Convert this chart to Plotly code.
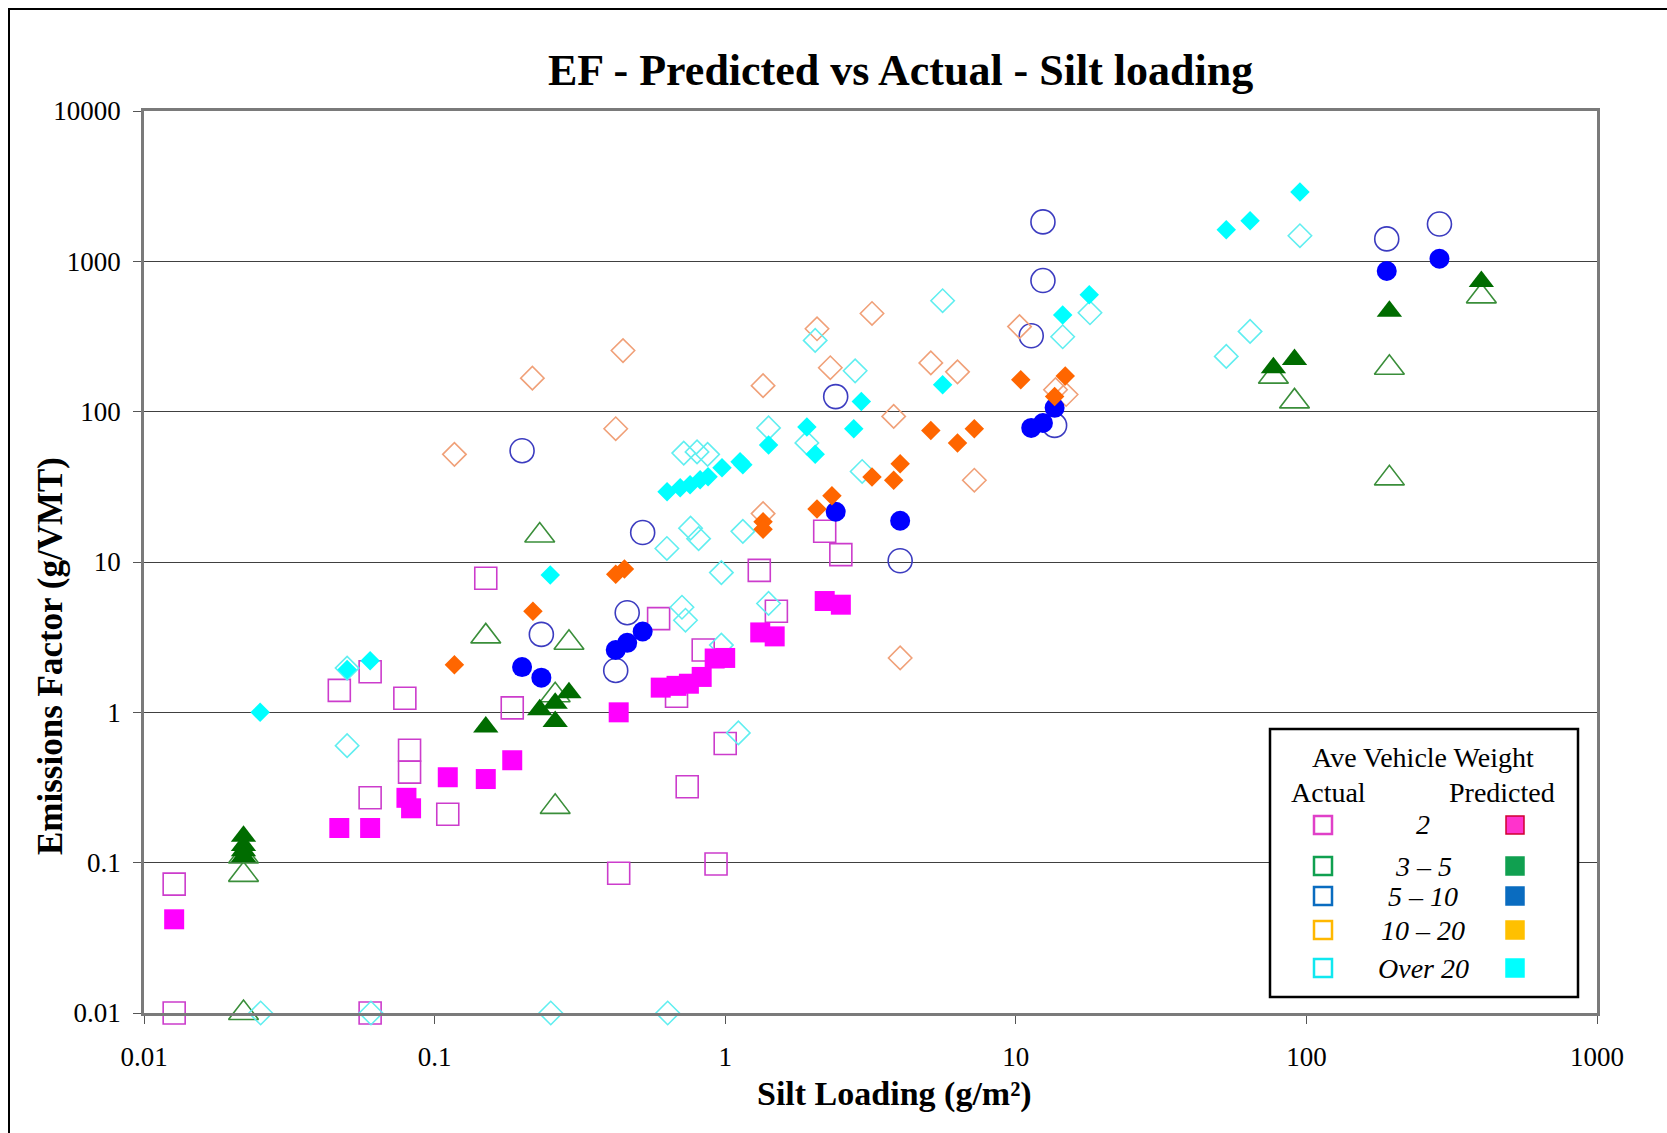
import plotly.graph_objects as go

# ---- measured emission factors (g/VMT) vs silt loading (g/m^2) ----
# Ave vehicle weight 2 tons
act_2_x = [0.0127, 0.0127, 0.047, 0.060, 0.060, 0.060, 0.079, 0.082, 0.082, 0.111, 0.150, 0.185,
           0.59, 0.68, 0.74, 0.84, 0.93, 1.0, 0.43, 1.31, 1.50, 2.2, 2.5]
act_2_y = [0.072, 0.01, 1.4, 1.86, 0.27, 0.01, 1.24, 0.56, 0.40, 0.21, 7.8, 1.07,
           4.2, 1.28, 0.32, 2.6, 0.098, 0.62, 0.085, 8.8, 4.7, 16, 11.2]
pred_2_x = [0.0127, 0.047, 0.060, 0.080, 0.083, 0.111, 0.150, 0.185, 0.43, 0.60, 0.68, 0.75,
            0.83, 0.92, 1.0, 1.32, 1.48, 2.2, 2.5]
pred_2_y = [0.042, 0.17, 0.17, 0.27, 0.23, 0.37, 0.36, 0.48, 1.0, 1.46, 1.5, 1.55,
            1.72, 2.28, 2.3, 3.4, 3.2, 5.5, 5.2]

# 3 - 5 tons
act_35_x = [0.022, 0.022, 0.022, 0.150, 0.23, 0.29, 0.26, 0.26, 77, 91, 193, 193, 400]
act_35_y = [0.083, 0.11, 0.01, 3.2, 15, 2.9, 1.3, 0.235, 171, 117, 196, 36, 585]
pred_35_x = [0.022, 0.022, 0.022, 0.022, 0.150, 0.23, 0.26, 0.26, 0.29, 77, 91, 193, 400]
pred_35_y = [0.15, 0.13, 0.12, 0.11, 0.80, 1.04, 0.87, 1.15, 1.35, 196, 222, 466, 735]

# 5 - 10 tons
act_510_x = [0.20, 0.233, 0.52, 0.46, 0.42, 2.4, 4.0, 13.6, 12.4, 12.4, 11.3, 189, 287]
act_510_y = [55, 3.3, 15.7, 4.6, 1.9, 126, 10.2, 81, 1830, 745, 320, 1410, 1770]
pred_510_x = [0.20, 0.233, 0.42, 0.46, 0.52, 2.4, 4.0, 11.3, 12.4, 13.6, 189, 287]
pred_510_y = [2.0, 1.7, 2.6, 2.9, 3.45, 21.6, 18.8, 78, 84, 106, 863, 1040]

# 10 - 20 tons
act_1020_x = [0.117, 0.217, 0.42, 0.445, 1.35, 1.35, 2.07, 2.3, 3.2, 3.8, 4.0, 5.1, 6.3, 7.2,
              10.3, 13.7, 14.9]
act_1020_y = [52, 167, 77, 255, 149, 21, 356, 196, 450, 93, 2.3, 211, 184, 35, 368, 140, 130]
pred_1020_x = [0.117, 0.218, 0.42, 0.45, 1.35, 1.35, 2.07, 2.33, 3.2, 3.8, 4.0, 5.1, 6.3, 7.2,
               10.4, 13.6, 14.8]
pred_1020_y = [2.07, 4.7, 8.3, 9.0, 18.5, 16.5, 22.5, 27.6, 36.7, 35, 45, 75, 62, 77, 163, 126, 173]

# Over 20 tons
act_20_x = [0.0252, 0.0604, 0.251, 0.634, 0.050, 0.050, 0.72, 0.80, 0.87, 1.41, 1.91, 2.96,
            0.76, 0.81, 0.63, 1.15, 0.97, 0.71, 0.73, 1.41, 0.97, 1.11, 2.04, 2.8, 5.6,
            14.5, 18.0, 53, 64, 95]
act_20_y = [0.01, 0.01, 0.01, 0.01, 0.6, 1.97, 53, 54, 52, 78, 62, 40,
            16.8, 14.3, 12.3, 16, 8.5, 5.0, 4.1, 5.3, 2.8, 0.73, 298, 187, 547,
            315, 455, 233, 342, 1480]
pred_20_x = [0.0251, 0.050, 0.060, 0.25, 0.631, 0.70, 0.757, 0.82, 0.873, 0.975, 1.125, 1.15,
             1.41, 1.91, 2.04, 2.77, 2.94, 5.6, 14.5, 17.9, 53, 64, 95]
pred_20_y = [1.0, 1.93, 2.2, 8.2, 29.3, 31.2, 32.7, 35.2, 36.9, 42.4, 46.4, 44.4,
             60, 79, 52, 77, 117, 151, 440, 600, 1620, 1860, 2890]

y_ticks = [0.01, 0.1, 1, 10, 100, 1000, 10000]
y_tick_labels = ["0.01", "0.1", "1", "10", "100", "1000", "10000"]
x_ticks = [0.01, 0.1, 1, 10, 100, 1000]
x_tick_labels = ["0.01", "0.1", "1", "10", "100", "1000"]

legend_labels = ["2", "3 \u2013 5", "5 \u2013 10", "10 \u2013 20", "Over 20"]
legend_actual_colors = ["#E040C8", "#10A050", "#0A6CC0", "#FFB800", "#10E8F0"]
legend_pred_colors = ["#FF33CC", "#10A050", "#0A6CC0", "#FFC000", "#00FFFF"]
legend_pred_borders = ["#D00030", "#10A050", "#0A6CC0", "#FFC000", "#00FFFF"]

SERIF = "Liberation Serif, Times New Roman, serif"

fig = go.Figure()


def open_pts(x, y, symbol, size, color):
    fig.add_trace(go.Scatter(
        x=x, y=y, mode="markers", cliponaxis=False,
        marker=dict(symbol=symbol + "-open", size=size, color=color,
                    line=dict(width=1.6, color=color))))


def filled_pts(x, y, symbol, size, color):
    fig.add_trace(go.Scatter(
        x=x, y=y, mode="markers", cliponaxis=False,
        marker=dict(symbol=symbol, size=size, color=color, line=dict(width=0))))


# actual (open) series first, predicted (filled) series drawn on top
open_pts(act_2_x, act_2_y, "square", 22, "#CC3CCC")
open_pts(act_35_x, act_35_y, "triangle-up", 26, "#3A8E3A")
open_pts(act_510_x, act_510_y, "circle", 24, "#3C3CC0")
open_pts(act_1020_x, act_1020_y, "diamond", 18, "#F0A078")
open_pts(act_20_x, act_20_y, "diamond", 18, "#60EEF0")

filled_pts(pred_2_x, pred_2_y, "square", 20, "#FF00FF")
filled_pts(pred_35_x, pred_35_y, "triangle-up", 22, "#006C00")
filled_pts(pred_510_x, pred_510_y, "circle", 20, "#0000FF")
filled_pts(pred_1020_x, pred_1020_y, "diamond", 15, "#FF6600")
filled_pts(pred_20_x, pred_20_y, "diamond", 15, "#00FFFF")

# plot-area geometry in pixels
L, T, W, H = 144, 111, 1453, 902


def px(x):
    return (x - L) / W


def py(y):
    return (T + H - y) / H


shapes = []
annotations = []

# outer chart frame
shapes.append(dict(type="rect", xref="paper", yref="paper",
                   x0=px(9), x1=px(1675), y0=py(9), y1=py(1145),
                   line=dict(color="#000000", width=2), fillcolor="rgba(0,0,0,0)", layer="above"))

# legend box
shapes.append(dict(type="rect", xref="paper", yref="paper",
                   x0=px(1270), x1=px(1578), y0=py(997), y1=py(729),
                   line=dict(color="#000000", width=2.5), fillcolor="#FFFFFF", layer="above"))

rows_y = [825, 866, 896, 930, 968]
half = 9
for i, ry in enumerate(rows_y):
    shapes.append(dict(type="rect", xref="paper", yref="paper",
                       x0=px(1323 - half), x1=px(1323 + half), y0=py(ry + half), y1=py(ry - half),
                       line=dict(color=legend_actual_colors[i], width=2.5),
                       fillcolor="#FFFFFF", layer="above"))
    shapes.append(dict(type="rect", xref="paper", yref="paper",
                       x0=px(1515 - half), x1=px(1515 + half), y0=py(ry + half), y1=py(ry - half),
                       line=dict(color=legend_pred_borders[i], width=1.5),
                       fillcolor=legend_pred_colors[i], layer="above"))
    annotations.append(dict(xref="paper", yref="paper", x=px(1423), y=py(ry),
                            text="<i>" + legend_labels[i] + "</i>", showarrow=False,
                            xanchor="center", yanchor="middle",
                            font=dict(family=SERIF, size=28, color="#000000")))

annotations.append(dict(xref="paper", yref="paper", x=px(1423), y=py(757),
                        text="Ave Vehicle Weight", showarrow=False,
                        xanchor="center", yanchor="middle",
                        font=dict(family=SERIF, size=28, color="#000000")))
annotations.append(dict(xref="paper", yref="paper", x=px(1328), y=py(792),
                        text="Actual", showarrow=False, xanchor="center", yanchor="middle",
                        font=dict(family=SERIF, size=28, color="#000000")))
annotations.append(dict(xref="paper", yref="paper", x=px(1502), y=py(792),
                        text="Predicted", showarrow=False, xanchor="center", yanchor="middle",
                        font=dict(family=SERIF, size=28, color="#000000")))

# chart and axis titles
annotations.append(dict(xref="paper", yref="paper", x=px(900), y=py(70),
                        text="<b>EF - Predicted vs Actual - Silt loading</b>", showarrow=False,
                        xanchor="center", yanchor="middle",
                        font=dict(family=SERIF, size=44, color="#000000")))
annotations.append(dict(xref="paper", yref="paper", x=px(894), y=py(1094),
                        text="<b>Silt Loading (g/m\u00b2)</b>", showarrow=False,
                        xanchor="center", yanchor="middle",
                        font=dict(family=SERIF, size=34, color="#000000")))
annotations.append(dict(xref="paper", yref="paper", x=px(50), y=py(656),
                        text="<b>Emissions Factor (g/VMT)</b>", showarrow=False, textangle=-90,
                        xanchor="center", yanchor="middle",
                        font=dict(family=SERIF, size=35, color="#000000")))

fig.update_layout(
    width=1667, height=1133,
    margin=dict(l=L, r=1667 - L - W, t=T, b=1133 - T - H, pad=0),
    paper_bgcolor="#FFFFFF", plot_bgcolor="#FFFFFF",
    showlegend=False,
    shapes=shapes, annotations=annotations,
    xaxis=dict(type="log", range=[-2, 3], tickvals=x_ticks, ticktext=x_tick_labels,
               showgrid=False, zeroline=False, showline=True, mirror=True,
               linecolor="#7A7A7A", linewidth=2.5, ticks="outside", ticklen=8,
               tickcolor="#555555", tickwidth=1.2, ticklabelstandoff=10,
               tickfont=dict(family=SERIF, size=27, color="#000000")),
    yaxis=dict(type="log", range=[-2, 4], tickvals=y_ticks, ticktext=y_tick_labels,
               showgrid=True, gridcolor="#404040", gridwidth=1.3, zeroline=False,
               showline=True, mirror=True, linecolor="#7A7A7A", linewidth=2.5,
               ticks="outside", ticklen=8, tickcolor="#555555", tickwidth=1.2,
               ticklabelstandoff=7,
               tickfont=dict(family=SERIF, size=27, color="#000000")),
)

fig.write_html("out.html")
